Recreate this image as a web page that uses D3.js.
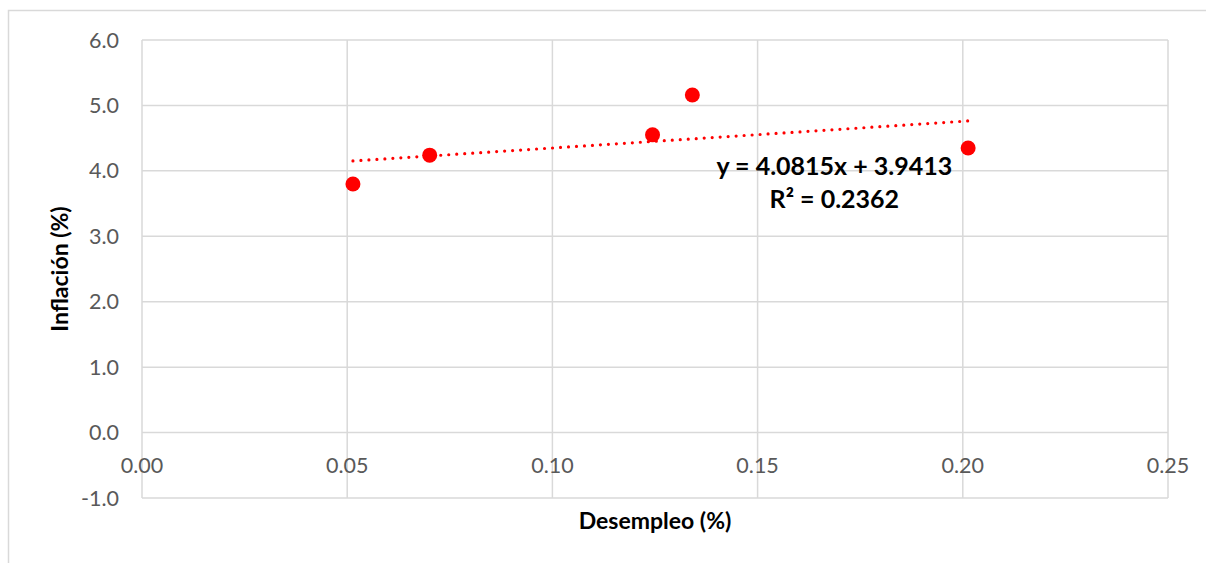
<!DOCTYPE html>
<html>
<head>
<meta charset="utf-8">
<style type="text/css">
	body {
		margin: 0;
		background: #ffffff;
		font-family: Lato, "Open Sans", sans-serif;
	}
	.grid line {
		stroke: #d9d9d9;
		stroke-width: 1.5;
	}
	.tick-label {
		fill: #595959;
		font-size: 21.5px;
	}
	.axis-title {
		fill: #000000;
		font-size: 23px;
		font-weight: 700;
	}
	.trend {
		stroke: #ff0000;
		stroke-width: 3.2;
		stroke-linecap: round;
		stroke-dasharray: 0 8;
		fill: none;
	}
	.dot {
		fill: #ff0000;
	}
	.eq {
		fill: #000000;
		font-size: 25px;
		font-weight: 700;
		text-anchor: middle;
	}
</style>
</head>
<body>
<div class="vis"></div>
<script src="https://cdnjs.cloudflare.com/ajax/libs/d3/7.8.5/d3.min.js"></script>
<script>

	// Data //
	// ---- //
	let desempleo = [0.0514, 0.0701, 0.1244, 0.1341, 0.2013];
	let inflacion = [3.80, 4.24, 4.55, 5.16, 4.35];
	let xTicks = [0, 0.05, 0.10, 0.15, 0.20, 0.25];
	let yTicks = [-1, 0, 1, 2, 3, 4, 5, 6];
	let slope = 4.0815, intercept = 3.9413, r2 = 0.2362;

	// Setup //
	// ----- //
	let W = 1206, H = 563;
	let margin = {top: 40, right: 38, bottom: 65, left: 142},
		width = W - margin.left - margin.right,
		height = H - margin.top - margin.bottom;

	let x = d3.scaleLinear().domain([0, 0.25]).range([0, width]);
	let y = d3.scaleLinear().domain([-1, 6]).range([height, 0]);

	let root = d3.select(".vis")
		.append("svg")
			.attr("width", W)
			.attr("height", H);

	// Chart border
	root.append("rect")
		.attr("x", 8.5)
		.attr("y", 10.5)
		.attr("width", W + 20)
		.attr("height", H + 20)
		.style("fill", "none")
		.style("stroke", "#d9d9d9")
		.style("stroke-width", 1.5);

	let svg = root.append("g")
		.attr("transform", "translate(" + margin.left + "," + margin.top + ")");

	// GRID
	let grid = svg.append("g").attr("class", "grid");
	grid.selectAll(".hline")
		.data(yTicks).enter().append("line")
		.attr("x1", 0)
		.attr("x2", width)
		.attr("y1", d => y(d))
		.attr("y2", d => y(d));
	grid.selectAll(".vline")
		.data(xTicks).enter().append("line")
		.attr("x1", d => x(d))
		.attr("x2", d => x(d))
		.attr("y1", 0)
		.attr("y2", height);

	// Y TICKS (plain hyphen for negatives, like Excel)
	svg.selectAll(".ylab")
		.data(yTicks).enter().append("text")
		.attr("class", "tick-label")
		.attr("x", -23)
		.attr("y", d => y(d))
		.attr("dy", "0.35em")
		.style("text-anchor", "end")
		.text(d => d.toFixed(1));

	// X TICKS (drawn below the zero line)
	svg.selectAll(".xlab")
		.data(xTicks).enter().append("text")
		.attr("class", "tick-label")
		.attr("x", d => x(d))
		.attr("y", y(0) + 33)
		.attr("dy", "0.35em")
		.style("text-anchor", "middle")
		.text(d => d.toFixed(2));

	// AXIS TITLES
	svg.append("text")
		.attr("class", "axis-title")
		.attr("transform", "rotate(-90)")
		.attr("x", -(y(2.5)))
		.attr("y", -74)
		.style("text-anchor", "middle")
		.text("Inflación (%)");

	svg.append("text")
		.attr("class", "axis-title")
		.attr("x", width / 2)
		.attr("y", height + 31)
		.style("text-anchor", "middle")
		.text("Desempleo (%)");

	// TREND LINE
	let xr = d3.extent(desempleo);
	svg.append("path")
		.datum(xr.map(v => [v, slope * v + intercept]))
		.attr("class", "trend")
		.attr("d", d3.line().x(d => x(d[0])).y(d => y(d[1])));

	// DOTS
	svg.selectAll(".dot")
		.data(d3.zip(desempleo, inflacion))
		.enter().append("circle")
		.attr("class", "dot")
		.attr("cx", d => x(d[0]))
		.attr("cy", d => y(d[1]))
		.attr("r", 7.5);

	// EQUATION
	svg.append("text")
		.attr("class", "eq")
		.attr("x", x(0.1687))
		.attr("y", y(3.93))
		.text("y = " + slope + "x + " + intercept);
	svg.append("text")
		.attr("class", "eq")
		.attr("x", x(0.1687))
		.attr("y", y(3.43))
		.text("R² = " + r2);

</script>
</body>
</html>
